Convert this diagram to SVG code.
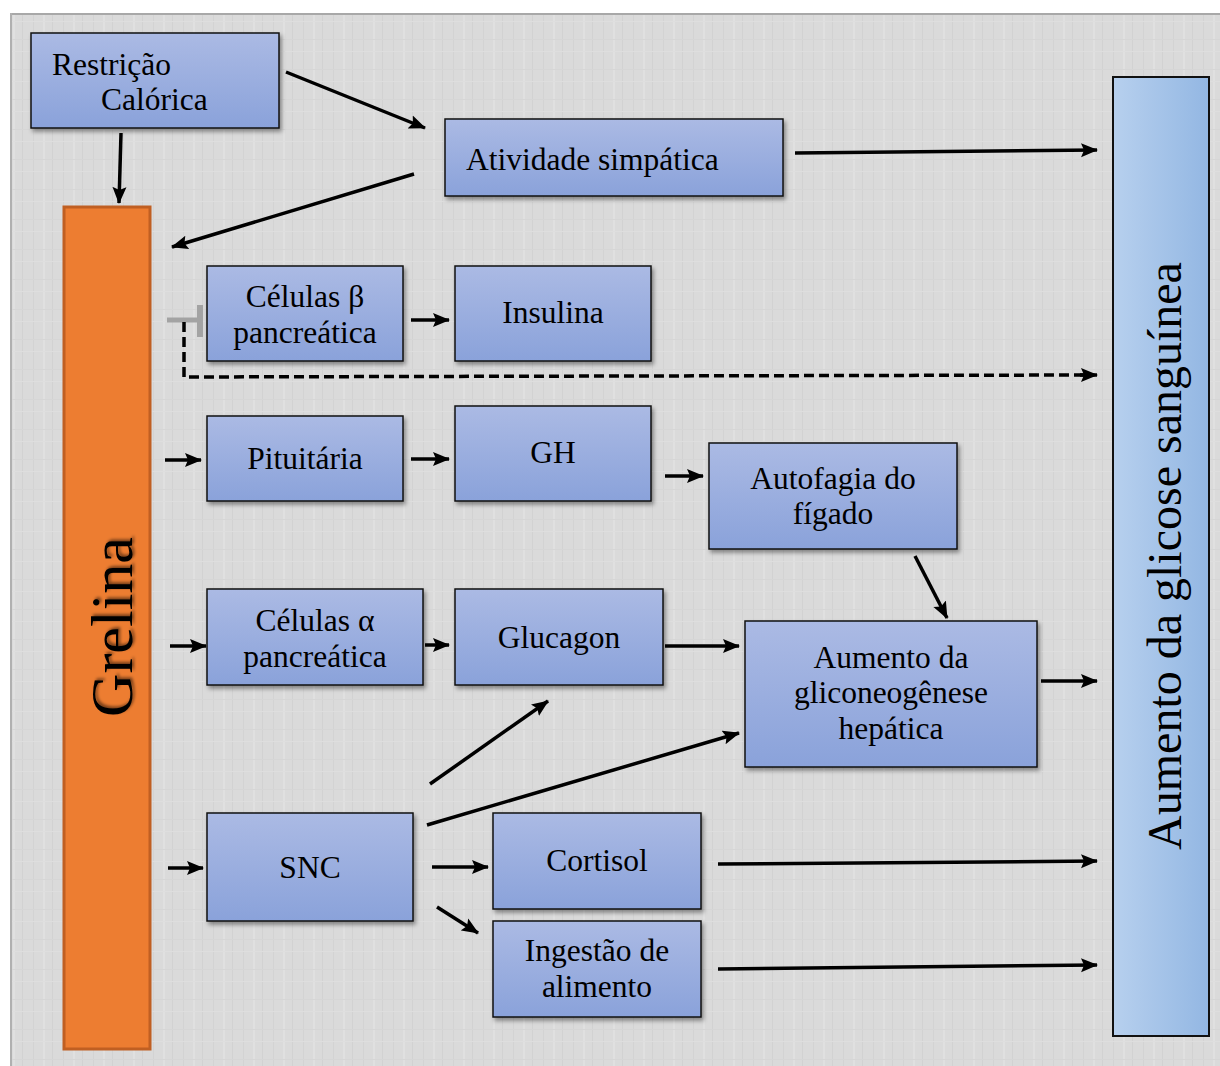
<svg xmlns="http://www.w3.org/2000/svg" width="1220" height="1066" viewBox="0 0 1220 1066">
<defs>
<linearGradient id="boxg" x1="0" y1="0" x2="0" y2="1">
<stop offset="0" stop-color="#abbae4"/>
<stop offset="1" stop-color="#8aa2da"/>
</linearGradient>
<linearGradient id="bigg" x1="0" y1="0" x2="1" y2="0">
<stop offset="0" stop-color="#b7d0ee"/>
<stop offset="1" stop-color="#93b7e3"/>
</linearGradient>
<filter id="sh" x="-10%" y="-10%" width="130%" height="130%">
<feDropShadow dx="2" dy="3" stdDeviation="2" flood-color="#000" flood-opacity="0.4"/>
</filter>
<filter id="tsh" x="-20%" y="-20%" width="140%" height="140%">
<feDropShadow dx="2" dy="2" stdDeviation="1.5" flood-color="#000" flood-opacity="0.5"/>
</filter>
<marker id="ah" markerUnits="userSpaceOnUse" markerWidth="18" markerHeight="16" refX="16" refY="8" orient="auto">
<path d="M0,1 L17,8 L0,15 L3,8 z" fill="#000"/>
</marker>
<pattern id="tex" width="30" height="30" patternUnits="userSpaceOnUse">
<rect width="30" height="30" fill="#dadada"/>
<rect x="3" width="1" height="30" fill="#d3d3d3"/>
<rect x="13" width="2" height="30" fill="#e0e0e0"/>
<rect x="22" width="1" height="30" fill="#d2d2d2"/>
<rect y="9" width="30" height="1" fill="#d6d6d6"/>
<rect y="21" width="30" height="1" fill="#dedede"/>
</pattern>
</defs>
<style>
.box{fill:url(#boxg);stroke:#111;stroke-width:1.5;filter:url(#sh)}
.t{font-family:"Liberation Serif","Times New Roman",serif;font-size:31.5px;fill:#000}
.c{text-anchor:middle}
.ar{stroke:#000;stroke-width:3.5;fill:none;marker-end:url(#ah)}
</style>
<rect x="0" y="0" width="1220" height="1066" fill="#ffffff"/>
<rect x="10" y="13" width="1210" height="1053" fill="url(#tex)"/>
<rect x="10" y="13" width="1210" height="2" fill="#a8a8a8"/>
<rect x="10" y="13" width="2" height="1053" fill="#b0b0b0"/>

<g id="connectors">
<line class="ar" x1="286" y1="72" x2="425" y2="128"/>
<line class="ar" x1="121" y1="133" x2="119" y2="203"/>
<line class="ar" x1="414" y1="174" x2="172" y2="247"/>
<line class="ar" x1="795" y1="153" x2="1097" y2="150"/>
<line x1="167" y1="320" x2="200" y2="320" stroke="#a3a3a3" stroke-width="5"/>
<line x1="200" y1="305" x2="200" y2="337" stroke="#a3a3a3" stroke-width="6"/>
<path d="M184,322 L184,377 L1085,375" stroke="#000" stroke-width="3.5" fill="none" stroke-dasharray="10,5"/>
<line class="ar" x1="1080" y1="375" x2="1097" y2="375"/>
<line class="ar" x1="411" y1="320" x2="449" y2="320"/>
<line class="ar" x1="165" y1="460" x2="201" y2="460"/>
<line class="ar" x1="411" y1="459" x2="449" y2="459"/>
<line class="ar" x1="665" y1="476" x2="703" y2="476"/>
<line class="ar" x1="915" y1="556" x2="947" y2="618"/>
<line class="ar" x1="170" y1="646" x2="206" y2="646"/>
<line class="ar" x1="425" y1="645" x2="449" y2="645"/>
<line class="ar" x1="665" y1="646" x2="739" y2="646"/>
<line class="ar" x1="1041" y1="681" x2="1097" y2="681"/>
<line class="ar" x1="430" y1="784" x2="548" y2="701"/>
<line class="ar" x1="427" y1="825" x2="739" y2="733"/>
<line class="ar" x1="168" y1="868" x2="203" y2="868"/>
<line class="ar" x1="432" y1="867" x2="488" y2="867"/>
<line class="ar" x1="437" y1="907" x2="478" y2="933"/>
<line class="ar" x1="718" y1="864" x2="1097" y2="861"/>
<line class="ar" x1="718" y1="969" x2="1097" y2="965"/>
</g>

<g id="grelina">
<rect x="64" y="207" width="86" height="842" fill="#ed7d31" stroke="#c05f22" stroke-width="3"/>
<text class="t c" transform="translate(132,627) rotate(-90)" style="font-size:60px" filter="url(#tsh)">Grelina</text>
</g>
<g id="glicose">
<rect x="1113" y="77" width="96" height="959" fill="url(#bigg)" stroke="#111" stroke-width="2"/>
<text class="t c" transform="translate(1181,556) rotate(-90)" style="font-size:48px">Aumento da glicose sanguínea</text>
</g>
<g id="restricao">
<rect class="box" x="31" y="33" width="248" height="95"/>
<text class="t" x="52" y="75">Restrição</text>
<text class="t" x="101" y="110">Calórica</text>
</g>
<g id="simpatica">
<rect class="box" x="445" y="119" width="338" height="77"/>
<text class="t" x="466" y="170">Atividade simpática</text>
</g>
<g id="celulas-beta">
<rect class="box" x="207" y="266" width="196" height="95"/>
<text class="t c" x="305" y="307">Células β</text>
<text class="t c" x="305" y="343">pancreática</text>
</g>
<g id="insulina">
<rect class="box" x="455" y="266" width="196" height="95"/>
<text class="t c" x="553" y="323">Insulina</text>
</g>
<g id="pituitaria">
<rect class="box" x="207" y="416" width="196" height="85"/>
<text class="t c" x="305" y="469">Pituitária</text>
</g>
<g id="gh">
<rect class="box" x="455" y="406" width="196" height="95"/>
<text class="t c" x="553" y="463">GH</text>
</g>
<g id="autofagia">
<rect class="box" x="709" y="443" width="248" height="106"/>
<text class="t c" x="833" y="489">Autofagia do</text>
<text class="t c" x="833" y="524">fígado</text>
</g>
<g id="celulas-alfa">
<rect class="box" x="207" y="589" width="216" height="96"/>
<text class="t c" x="315" y="631">Células α</text>
<text class="t c" x="315" y="667">pancreática</text>
</g>
<g id="glucagon">
<rect class="box" x="455" y="589" width="208" height="96"/>
<text class="t c" x="559" y="648">Glucagon</text>
</g>
<g id="gliconeogenese">
<rect class="box" x="745" y="621" width="292" height="146"/>
<text class="t c" x="891" y="668">Aumento da</text>
<text class="t c" x="891" y="703">gliconeogênese</text>
<text class="t c" x="891" y="739">hepática</text>
</g>
<g id="snc">
<rect class="box" x="207" y="813" width="206" height="108"/>
<text class="t c" x="310" y="878">SNC</text>
</g>
<g id="cortisol">
<rect class="box" x="493" y="813" width="208" height="96"/>
<text class="t c" x="597" y="871">Cortisol</text>
</g>
<g id="ingestao">
<rect class="box" x="493" y="921" width="208" height="96"/>
<text class="t c" x="597" y="961">Ingestão de</text>
<text class="t c" x="597" y="997">alimento</text>
</g>
</svg>
